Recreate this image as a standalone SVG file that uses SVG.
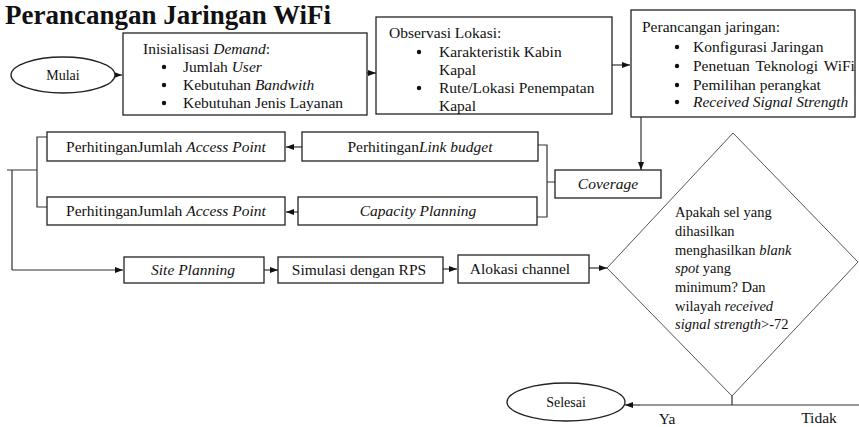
<svg xmlns="http://www.w3.org/2000/svg" width="859" height="427" viewBox="0 0 859 427" font-family="'Liberation Serif', 'DejaVu Serif', 'Times New Roman', serif">
<style>
text{font-family:'Liberation Serif','DejaVu Serif','Times New Roman',serif;font-size:15.5px;fill:#111}
.i{font-style:italic}
.box{fill:#fff;stroke:#222;stroke-width:1.3}
.ln{fill:none;stroke:#333;stroke-width:1.2}
.thin{fill:none;stroke:#555;stroke-width:1}
.c{text-anchor:middle}
.d{font-size:14.5px}
</style>
<defs>
<marker id="arr" viewBox="0 0 8 6" refX="8" refY="3" markerWidth="8" markerHeight="6" markerUnits="userSpaceOnUse" orient="auto"><path d="M0,0 L8,3 L0,6 z" fill="#111"/></marker>
</defs>
<rect width="859" height="427" fill="#fff"/>
<text x="5" y="24" style="font-size:27px;font-weight:bold" fill="#000">Perancangan Jaringan WiFi</text>

<g id="connectors">
<path class="ln" d="M115,75 L122,75" marker-end="url(#arr)"/>
<path class="ln" d="M367,73 L376,73" marker-end="url(#arr)"/>
<path class="ln" d="M612,65 L630,65" marker-end="url(#arr)"/>
<path class="ln" d="M641,117 L641,170" marker-end="url(#arr)"/>
<path class="ln" d="M555,182 L547,182 M538,145 L547,145 L547,217 L537,217"/>
<path class="ln" d="M302,147 L286,147" marker-end="url(#arr)"/>
<path class="ln" d="M298,212 L286,212" marker-end="url(#arr)"/>
<path class="ln" d="M47,137 L37,137 L37,207 L47,207 M37,170 L7,170 M12,170 L12,270"/>
<path class="ln" d="M12,270 L123,270" marker-end="url(#arr)"/>
<path class="ln" d="M264,270 L278,270" marker-end="url(#arr)"/>
<path class="ln" d="M443,269 L457,269" marker-end="url(#arr)"/>
<path class="ln" d="M589,268 L607,268" marker-end="url(#arr)"/>
<path class="ln" d="M732,396 L732,405 M859,405 L640,405"/>
<path class="ln" d="M640,405 L625,405" marker-end="url(#arr)"/>
</g>

<g id="mulai">
<ellipse cx="63" cy="75" rx="52" ry="18" class="box"/>
<text x="63" y="80" class="c" style="font-size:14px">Mulai</text>
</g>

<g id="inisialisasi">
<rect x="123" y="33" width="244" height="82" class="box"/>
<text x="143" y="54">Inisialisasi <tspan class="i">Demand</tspan>:</text>
<circle cx="164" cy="67" r="2.2" fill="#111"/>
<circle cx="164" cy="85" r="2.2" fill="#111"/>
<circle cx="164" cy="103" r="2.2" fill="#111"/>
<text x="183" y="72">Jumlah <tspan class="i">User</tspan></text>
<text x="183" y="90">Kebutuhan <tspan class="i">Bandwith</tspan></text>
<text x="183" y="108">Kebutuhan Jenis Layanan</text>
</g>

<g id="observasi">
<rect x="376" y="17" width="236" height="97" class="box"/>
<text x="389" y="38">Observasi Lokasi:</text>
<circle cx="419" cy="52" r="2.2" fill="#111"/>
<circle cx="419" cy="88" r="2.2" fill="#111"/>
<text x="439" y="57">Karakteristik Kabin</text>
<text x="439" y="75">Kapal</text>
<text x="439" y="93">Rute/Lokasi Penempatan</text>
<text x="439" y="111">Kapal</text>
</g>

<g id="perancangan">
<rect x="631" y="10" width="224" height="107" class="box"/>
<text x="642" y="32">Perancangan jaringan:</text>
<circle cx="677" cy="47" r="2.2" fill="#111"/>
<circle cx="677" cy="66" r="2.2" fill="#111"/>
<circle cx="677" cy="85" r="2.2" fill="#111"/>
<circle cx="677" cy="102" r="2.2" fill="#111"/>
<text x="693" y="52">Konfigurasi Jaringan</text>
<text x="693" y="71" style="word-spacing:2px">Penetuan Teknologi WiFi</text>
<text x="693" y="90">Pemilihan perangkat</text>
<text x="693" y="107" class="i">Received Signal Strength</text>
</g>

<g id="coverage">
<rect x="555" y="170" width="106" height="28" class="box"/>
<text x="608" y="189" class="c i">Coverage</text>
</g>

<g id="linkbudget">
<rect x="302" y="132" width="236" height="29" class="box"/>
<text x="420" y="152" class="c">Perhitingan<tspan class="i">Link budget</tspan></text>
</g>

<g id="capacity">
<rect x="298" y="197" width="239" height="28" class="box"/>
<text x="418" y="216" class="c i">Capacity Planning</text>
</g>

<g id="ap1">
<rect x="47" y="132" width="238" height="29" class="box"/>
<text x="166" y="152" class="c">PerhitinganJumlah <tspan class="i">Access Point</tspan></text>
</g>

<g id="ap2">
<rect x="47" y="197" width="238" height="28" class="box"/>
<text x="166" y="216" class="c">PerhitinganJumlah <tspan class="i">Access Point</tspan></text>
</g>

<g id="siteplanning">
<rect x="124" y="257" width="140" height="26" class="box"/>
<text x="193" y="275" class="c i">Site Planning</text>
</g>

<g id="simulasi">
<rect x="278" y="257" width="165" height="26" class="box"/>
<text x="359" y="275" class="c">Simulasi dengan RPS</text>
</g>

<g id="alokasi">
<rect x="458" y="255" width="131" height="28" class="box"/>
<text x="520" y="274" class="c">Alokasi channel</text>
</g>

<g id="keputusan">
<path class="thin" d="M733,133 L858,262 L732,396 L607,268 Z" fill="#fff"/>
<text x="675" y="217" class="d">Apakah sel yang</text>
<text x="675" y="236" class="d">dihasilkan</text>
<text x="675" y="255" class="d">menghasilkan <tspan class="i">blank</tspan></text>
<text x="675" y="273" class="d"><tspan class="i">spot</tspan> yang</text>
<text x="675" y="292" class="d">minimum? Dan</text>
<text x="675" y="311" class="d">wilayah <tspan class="i">received</tspan></text>
<text x="675" y="329" class="d"><tspan class="i">signal strength</tspan>&gt;-72</text>
</g>

<g id="selesai">
<ellipse cx="566" cy="402" rx="59" ry="19" class="box"/>
<text x="566" y="407" class="c" style="font-size:14px">Selesai</text>
</g>

<text x="667" y="424" class="c">Ya</text>
<text x="819" y="423" class="c">Tidak</text>
</svg>
